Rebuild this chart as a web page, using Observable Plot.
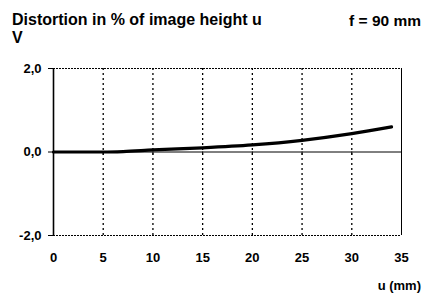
<!DOCTYPE html>
<html><head><meta charset="utf-8">
<script src="https://cdn.jsdelivr.net/npm/d3@7"></script>
<script src="https://cdn.jsdelivr.net/npm/@observablehq/plot@0.6"></script>
<style>
body{margin:0;background:#fff;}
#wrap{position:relative;width:425px;height:294px;}
</style></head>
<body><div id="wrap"></div>
<script>
const uValues = [0, 5, 7, 10, 15, 20, 25, 30, 34];
const distortion = [0, 0, 0.01, 0.05, 0.1, 0.17, 0.28, 0.44, 0.6];
const xTicks = [0, 5, 10, 15, 20, 25, 30, 35];
const yTicks = [-2, 0, 2];
const gridX = [5, 10, 15, 20, 25, 30];
const titleText = "Distortion in % of image height u";
const titleLine2 = "V";
const focalText = "f = 90 mm";
const xLabel = "u (mm)";

const data = uValues.map((u, i) => ({u, d: distortion[i]}));
const fmt = d => d.toFixed(1).replace(".", ",");
const FONT = '"Liberation Sans", Arial, sans-serif';

const chart = Plot.plot({
  width: 425, height: 294,
  marginLeft: 53, marginRight: 24, marginTop: 68, marginBottom: 59,
  style: {fontFamily: FONT, fontWeight: "bold", fontSize: "13px", color: "#000", background: "#fff"},
  x: {domain: [0, 35], ticks: xTicks, tickFormat: d => String(d), tickSize: 0, tickPadding: 17, label: null},
  y: {domain: [-2, 2], ticks: yTicks, tickFormat: fmt, tickSize: 5, tickPadding: 7, label: null},
  marks: [
    Plot.ruleX(gridX, {stroke: "#000", strokeWidth: 1.3, strokeDasharray: "2,3"}),
    Plot.ruleY([2, -2], {stroke: "#000", strokeWidth: 1, strokeDasharray: "2,1"}),
    Plot.ruleY([0], {stroke: "#000", strokeWidth: 1}),
    Plot.ruleX(gridX, {y1: 0, y2: -0.08, stroke: "#000", strokeWidth: 1}),
    Plot.ruleX([35], {stroke: "#000", strokeWidth: 1}),
    Plot.ruleX([0], {stroke: "#000", strokeWidth: 1.6}),
    Plot.line(data, {x: "u", y: "d", curve: "monotone-x", stroke: "#000", strokeWidth: 3.2})
  ]
});
document.getElementById("wrap").appendChild(chart);
const svg = d3.select(chart);
function addText(txt, x, y, size, anchor){
  svg.append("text").attr("x", x).attr("y", y).attr("text-anchor", anchor)
    .attr("font-family", FONT).attr("font-weight", "bold").attr("font-size", size).attr("fill", "#000").text(txt);
}
addText(titleText, 12, 25, 16, "start");
addText(titleLine2, 12, 43, 16, "start");
addText(focalText, 421, 25.5, 15.5, "end");
addText(xLabel, 421, 290, 13, "end");
</script></body></html>
